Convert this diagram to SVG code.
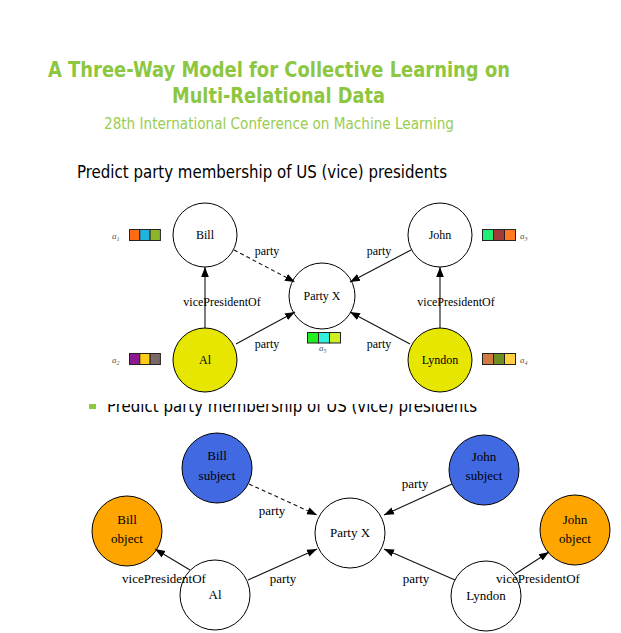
<svg xmlns="http://www.w3.org/2000/svg" width="621" height="633" viewBox="0 0 621 633">
<defs>
<marker id="ah" viewBox="0 0 10 10" refX="10" refY="5" markerWidth="10" markerHeight="10" markerUnits="userSpaceOnUse" orient="auto">
<path d="M0,1.2 L10,5 L0,8.8 Z" fill="#000"/>
</marker>
<clipPath id="cut"><rect x="0" y="404" width="621" height="20"/></clipPath>
<style>
.title{font-family:"DejaVu Sans","Liberation Sans",sans-serif;font-weight:bold;fill:#8dc63f;font-size:21px}
.sub{font-family:"DejaVu Sans","Liberation Sans",sans-serif;fill:#99cc4f;font-size:15px}
.head{font-family:"DejaVu Sans","Liberation Sans",sans-serif;fill:#000;font-size:17px}
.lbl{font-family:"Liberation Serif","Times New Roman",serif;font-size:12px;fill:#000;text-anchor:middle}
.lbl2{font-family:"Liberation Serif","Times New Roman",serif;font-size:13px;fill:#000;text-anchor:middle}
.sm{font-family:"Liberation Serif",serif;font-style:italic;font-size:9px;fill:#555}
.node{stroke:#000;stroke-width:1}
.e{stroke:#111;stroke-width:1.1;fill:none;marker-end:url(#ah)}
.d{stroke-dasharray:4,3}
.sq{stroke:#222;stroke-width:1}
</style>
</defs>
<rect width="621" height="633" fill="#fff"/>
<text class="title" x="48" y="77" textLength="462" lengthAdjust="spacingAndGlyphs">A Three-Way Model for Collective Learning on</text>
<text class="title" x="172" y="103" textLength="213" lengthAdjust="spacingAndGlyphs">Multi-Relational Data</text>
<text class="sub" x="104" y="129" textLength="350" lengthAdjust="spacingAndGlyphs">28th International Conference on Machine Learning</text>
<text class="head" x="77" y="178" textLength="370" lengthAdjust="spacingAndGlyphs">Predict party membership of US (vice) presidents</text>

<g id="bill-top"><circle class="node" cx="205" cy="235" r="32" fill="#fff"/><text class="lbl" x="205" y="239">Bill</text></g>
<g id="al-top"><circle class="node" cx="205" cy="360" r="32" fill="#e6e600"/><text class="lbl" x="205" y="364">Al</text></g>
<g id="partyx-top"><circle class="node" cx="322" cy="296" r="33" fill="#fff"/><text class="lbl" x="322" y="300">Party X</text></g>
<g id="john-top"><circle class="node" cx="440" cy="235" r="32" fill="#fff"/><text class="lbl" x="440" y="239">John</text></g>
<g id="lyndon-top"><circle class="node" cx="440" cy="360" r="32" fill="#e6e600"/><text class="lbl" x="440" y="364">Lyndon</text></g>

<g id="connectors-top">
<line class="e d" x1="234" y1="250" x2="295" y2="282"/>
<line class="e" x1="205" y1="328" x2="205" y2="267"/>
<line class="e" x1="236" y1="344" x2="295" y2="312"/>
<line class="e" x1="411" y1="250" x2="350" y2="282"/>
<line class="e" x1="440" y1="328" x2="440" y2="267"/>
<line class="e" x1="410" y1="344" x2="350" y2="312"/>
<text class="lbl" x="267" y="255">party</text>
<text class="lbl" x="222" y="306">vicePresidentOf</text>
<text class="lbl" x="267" y="348">party</text>
<text class="lbl" x="379" y="255">party</text>
<text class="lbl" x="456" y="306">vicePresidentOf</text>
<text class="lbl" x="379" y="348">party</text>
</g>

<g id="a1">
<text class="sm" x="112" y="239">a<tspan font-size="6" dy="2">1</tspan></text>
<rect class="sq" x="129.5" y="229.5" width="10.3" height="11" fill="#ff6a14"/>
<rect class="sq" x="139.8" y="229.5" width="10.3" height="11" fill="#1eb4e0"/>
<rect class="sq" x="150.1" y="229.5" width="10.3" height="11" fill="#8db52c"/>
</g>
<g id="a2">
<text class="sm" x="112" y="363">a<tspan font-size="6" dy="2">2</tspan></text>
<rect class="sq" x="129.5" y="353.5" width="10.3" height="11" fill="#8a1a8e"/>
<rect class="sq" x="139.8" y="353.5" width="10.3" height="11" fill="#ffcc14"/>
<rect class="sq" x="150.1" y="353.5" width="10.3" height="11" fill="#7b6868"/>
</g>
<g id="a3">
<rect class="sq" x="482.5" y="229.5" width="11" height="11" fill="#22ee77"/>
<rect class="sq" x="493.5" y="229.5" width="11" height="11" fill="#a33a3a"/>
<rect class="sq" x="504.5" y="229.5" width="11" height="11" fill="#ff7a22"/>
<text class="sm" x="520" y="239">a<tspan font-size="6" dy="2">3</tspan></text>
</g>
<g id="a4">
<rect class="sq" x="482.5" y="353.5" width="11" height="11" fill="#d27a40"/>
<rect class="sq" x="493.5" y="353.5" width="11" height="11" fill="#6e8e22"/>
<rect class="sq" x="504.5" y="353.5" width="11" height="11" fill="#ffd040"/>
<text class="sm" x="520" y="363">a<tspan font-size="6" dy="2">4</tspan></text>
</g>
<g id="a5">
<rect class="sq" x="307.5" y="332.5" width="11" height="10.5" fill="#22ee22"/>
<rect class="sq" x="318.5" y="332.5" width="11" height="10.5" fill="#33eedd"/>
<rect class="sq" x="329.5" y="332.5" width="11" height="10.5" fill="#ccee22"/>
<text class="sm" x="319" y="351">a<tspan font-size="6" dy="2">5</tspan></text>
</g>

<g id="cut-heading" clip-path="url(#cut)">
<rect x="89" y="401" width="7" height="8" fill="#8dc63f"/>
<text class="head" x="107" y="412" textLength="370" lengthAdjust="spacingAndGlyphs">Predict party membership of US (vice) presidents</text>
</g>

<g id="bill-subject"><circle class="node" cx="217" cy="468" r="35" fill="#4169e1"/><text class="lbl2" x="217" y="460">Bill</text><text class="lbl2" x="217" y="480">subject</text></g>
<g id="bill-object"><circle class="node" cx="127" cy="531" r="35" fill="#ffa500"/><text class="lbl2" x="127" y="524">Bill</text><text class="lbl2" x="127" y="543">object</text></g>
<g id="al-bottom"><circle class="node" cx="215" cy="595" r="35" fill="#fff"/><text class="lbl2" x="215" y="599">Al</text></g>
<g id="partyx-bottom"><circle class="node" cx="350" cy="533" r="35" fill="#fff"/><text class="lbl2" x="350" y="537">Party X</text></g>
<g id="john-subject"><circle class="node" cx="484" cy="470" r="35" fill="#4169e1"/><text class="lbl2" x="484" y="461">John</text><text class="lbl2" x="484" y="480">subject</text></g>
<g id="john-object"><circle class="node" cx="575" cy="530" r="35" fill="#ffa500"/><text class="lbl2" x="575" y="524">John</text><text class="lbl2" x="575" y="543">object</text></g>
<g id="lyndon-bottom"><circle class="node" cx="486" cy="596" r="35" fill="#fff"/><text class="lbl2" x="486" y="600">Lyndon</text></g>

<g id="connectors-bottom">
<line class="e d" x1="249" y1="484" x2="317" y2="515"/>
<line class="e" x1="190" y1="570" x2="155" y2="549"/>
<line class="e" x1="248" y1="580" x2="317" y2="549"/>
<line class="e" x1="452" y1="484" x2="384" y2="515"/>
<line class="e" x1="455" y1="580" x2="384" y2="549"/>
<line class="e" x1="515" y1="574" x2="549" y2="552"/>
<text class="lbl2" x="272" y="515">party</text>
<text class="lbl2" x="164" y="583">vicePresidentOf</text>
<text class="lbl2" x="283" y="583">party</text>
<text class="lbl2" x="415" y="488">party</text>
<text class="lbl2" x="416" y="583">party</text>
<text class="lbl2" x="538" y="583">vicePresidentOf</text>
</g>
</svg>
